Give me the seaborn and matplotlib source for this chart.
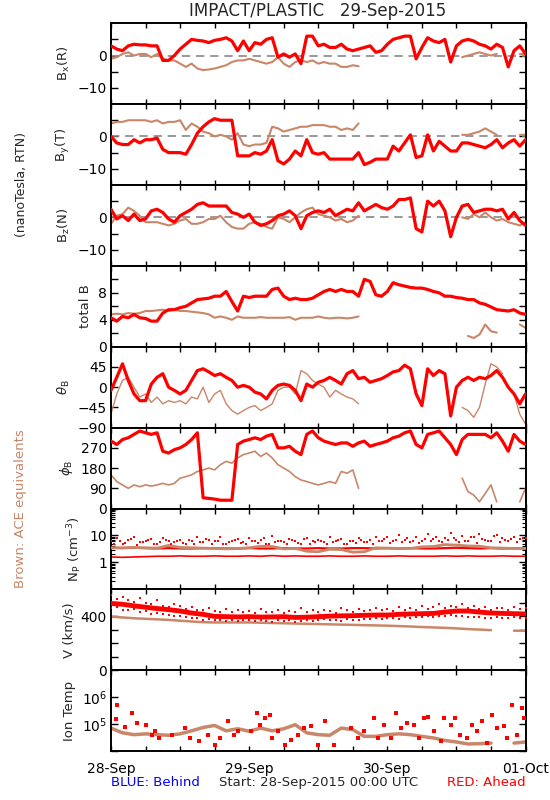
import numpy as np
import pandas as pd
import matplotlib
matplotlib.use('Agg')
import matplotlib.pyplot as plt
import matplotlib.ticker as mticker
import seaborn as sns

nan = np.nan

# --- data: hours after 28-Sep-2015 00:00 UTC ---
hours = list(range(73))
hours2 = list(range(0, 73, 2))
half_hours = [h + 0.5 for h in range(72)]

bx_ahead = [3, 2, 1.5, 3, 3.5, 3.3, 3.3, 3, 3, -1.5, -1.5, 0,
            2, 3.5, 5, 4.7, 4.5, 4, 4.7, 5, 5.5, 4.5, 1.5, 4.5,
            1.5, 4, 3.5, 5, 5.5, -0.5, 0.5, -0.5, 0.5, -2.5, 6, 6,
            3, 3.5, 2.5, 2.5, 3.5, 2, 1.5, 2, 2.5, 3, 1, 1.5,
            3.5, 5, 5.5, 6, 6, -1, 2.5, 5.5, 4.5, 4, 5, -2,
            3, 4.5, 5, 4.5, 3.5, 3, 2, 3.5, 2.5, -3.5, 1.5, 3,
            0.5]
bx_ace = [-1, -0.5, 0.5, 1, 0, 0.5, 0.5, -0.5, 0.5, -1, -1.5, -1.5,
          -2.5, -3.5, -2.5, -4, -4.5, -4.3, -4, -3.5, -3, -2, -1.5, -1.5,
          -1, -1.5, -2, -2.5, -2, -0.5, -2.5, -3.5, -2, -1.5, -2, -1.5,
          -2.5, -2, -2.5, -2.5, -3.5, -3.5, -3, -3.3, nan, nan, nan, nan,
          nan, nan, nan, nan, nan, nan, nan, nan, nan, nan, nan, nan,
          nan, -0.5, 0, 0.5, 1, 0.5, 0, 0.5, nan, nan, nan, 0.5,
          0.5]

by_ahead = [0, -2, -2.5, -2.5, -1, -2, -1, -1, -0.5, -4, -5, -5,
            -5, -5.5, -2.5, 1, 3, 4.5, 5.5, 5, 5, 5, -6, -6,
            -6, -5, -5.5, -4.5, -1, -7.5, -8.5, -7, -4.5, -6, -1, -5,
            -5.5, -5, -7, -7, -7, -7, -7, -5, -8.7, -8, -7, -7,
            -7, -3, -4.5, -2, 0.5, -6.5, -6, 0.5, -4.5, -1.5, -3, -4.5,
            -4.5, -2, -2, -2.5, -3, -3.5, -2.5, -1, -3.5, -2, -1, -3,
            -1]
by_ace = [4, 4.5, 4.5, 5, 5, 5, 5, 4.5, 5, 4, 4.5, 4.5,
          5, 2, 4, 3, 1.5, 1, 0, 0.5, 0, -1, 1, -2.5,
          -3, -2.5, -2.5, -2, 3, 2.5, 1.5, 2, 2.5, 3, 3, 3.5,
          3.5, 3.5, 3, 3, 2, 2.5, 2, 4, nan, nan, nan, nan,
          nan, nan, nan, nan, nan, nan, nan, nan, nan, nan, nan, nan,
          nan, 0.5, 0.5, 1, 1.5, 2.5, 1.5, 0.5, nan, nan, nan, 0.5,
          0.5]

bz_ahead = [2.5, -0.5, 0.5, -1, 1, -1, -0.5, 2, 2.5, 1.5, -0.5, -1.5,
            0.5, 1.5, 2.5, 4, 4.5, 3.5, 3.5, 3.5, 3.5, 1.5, 1, 0,
            1, -1.5, -2.5, -2, -1, 0.5, 1, 2, 0.5, -3.5, 0.5, 1.5,
            2, 1.5, 2.5, 0.5, 1.5, 2.5, 2, 4.5, 2, 3, 4, 3,
            2.5, 3.5, 5.5, 5.5, 6, -3.5, -4.5, 5, 3.5, 5, 2, -6,
            0, 3.5, 4, 1.5, 2, 2.5, 2.5, 2, 2.5, -0.5, 1.5, -1,
            -2.5]
bz_ace = [-2, 0.5, 1, 3, 2, 0.5, -1.5, -1.5, -1.5, -2, -2.5, -2,
          -1, -0.5, -2, -2, -1.5, -0.5, -0.5, 0.5, -1.5, -3, -3.5, -3.5,
          -2, -1.5, -2, -3, -3.5, 0, -0.5, -1.5, 0, 1.5, 2.5, 3,
          1, 0.5, 0, -1, -0.5, -1.5, -1, 0.5, nan, nan, nan, nan,
          nan, nan, nan, nan, nan, nan, nan, nan, nan, nan, nan, nan,
          nan, 0, -0.5, 1, 0, 1.5, 0, -1, -0.5, -1.5, -2, -2.5,
          -1.5]

totb_ahead = [4.3, 3.8, 4.5, 4.3, 4.8, 4.3, 4.2, 3.8, 3.8, 5.0, 5.5, 5.5,
              5.8, 6.0, 6.5, 7.0, 7.1, 7.2, 7.5, 7.5, 8.2, 6.7, 5.3, 7.5,
              7.3, 7.5, 7.5, 7.5, 8.5, 8.7, 7.5, 7.0, 7.2, 7.0, 7.0, 7.2,
              7.7, 8.2, 8.5, 8.2, 8.5, 8.2, 8.2, 7.5, 10.0, 9.7, 7.7, 7.5,
              8.2, 9.5, 9.2, 9.0, 8.8, 8.7, 8.7, 8.5, 8.2, 8.0, 7.5, 7.5,
              7.3, 7.2, 7.0, 7.0, 6.5, 6.3, 5.9, 5.5, 5.4, 5.3, 5.5, 5.0,
              4.8]
totb_ace = [4.8, 4.9, 4.8, 5.0, 4.9, 5.0, 5.3, 5.3, 5.4, 5.5, 5.3, 5.5,
            5.3, 5.3, 5.2, 5.1, 5.0, 4.8, 4.3, 4.5, 4.3, 4.0, 4.5, 4.3,
            4.3, 4.3, 4.4, 4.3, 4.3, 4.3, 4.3, 4.4, 4.0, 4.3, 4.3, 4.3,
            4.5, 4.3, 4.2, 4.3, 4.3, 4.2, 4.3, 4.5, nan, nan, nan, nan,
            nan, nan, nan, nan, nan, nan, nan, nan, nan, nan, nan, nan,
            nan, nan, 1.6, 1.3, 1.8, 3.3, 2.3, 2.1, nan, nan, nan, 3.3,
            2.8]

theta_ahead = [-7, 22, 52, 15, -15, -30, -30, 7, 22, 30, 0, -7,
               -15, -7, 15, 37, 41, 34, 26, 30, 22, 15, 0, 4,
               0, -11, -15, -26, -7, 4, 7, 4, -7, -30, 7, 0,
               11, 15, 22, 15, 7, 30, 37, 19, 22, 11, 15, 19,
               26, 34, 37, 49, 41, -15, -41, 41, 26, 37, 30, -64,
               0, 15, 22, 15, 22, 19, 26, 37, 22, 0, -15, -37,
               -15]
theta_ace = [-60, -15, 15, 22, 0, -22, -15, -34, -22, -37, -30, -34,
             -30, -37, -22, -26, 0, -34, -15, -7, -37, -52, -60, -52,
             -45, -41, -52, -45, -37, -7, 0, 0, -15, 37, 30, 15,
             7, 0, -22, -7, -15, -22, -26, -37, nan, nan, nan, nan,
             nan, nan, nan, nan, nan, nan, nan, nan, nan, nan, nan, nan,
             nan, -45, -52, -67, -45, 7, 52, 45, 30, nan, -15, -60,
             -82]

phi_ahead = [300, 285, 307, 315, 330, 345, 337, 330, 337, 255, 247, 262,
             270, 285, 307, 337, 48, 45, 42, 37, 37, 37, 285, 300,
             307, 315, 307, 322, 330, 270, 270, 277, 255, 240, 330, 345,
             315, 300, 292, 285, 292, 292, 277, 292, 300, 277, 285, 292,
             300, 315, 322, 337, 345, 285, 270, 330, 337, 345, 315, 285,
             240, 307, 330, 330, 330, 330, 315, 337, 300, 255, 330, 300,
             285]
phi_ace = [150, 120, 105, 90, 105, 97, 105, 100, 105, 112, 105, 112,
           135, 142, 150, 165, 172, 180, 172, 195, 210, 202, 225, 240,
           247, 255, 232, 247, 225, 195, 180, 165, 142, 127, 120, 112,
           105, 112, 120, 112, 165, 157, 172, 90, nan, nan, nan, nan,
           nan, nan, nan, nan, nan, nan, nan, nan, nan, nan, nan, nan,
           nan, 135, 75, 60, 30, 67, 105, 30, nan, nan, nan, 30,
           90]

# density (2-hourly bands + scattered upper points)
np_ahead = [3.5, 3.4, 3.5, 3.4, 3.3, 3.4, 3.3, 3.3, 3.4, 3.4, 3.3, 3.3,
            3.4, 3.3, 3.3, 3.4, 3.3, 3.3, 3.4, 3.3, 3.3, 3.4, 3.4, 3.3,
            3.4, 3.3, 3.4, 3.3, 3.3, 3.4, 3.5, 3.4, 3.3, 3.4, 3.3, 3.4, 3.3]
np_ahead_low = [1.6, 1.55, 1.6, 1.65, 1.7, 1.7, 1.75, 1.7, 1.7, 1.75, 1.7, 1.7,
                1.75, 1.7, 1.8, 1.7, 1.75, 1.7, 1.7, 1.75, 1.7, 1.7, 1.75, 1.7,
                1.7, 1.75, 1.7, 1.7, 1.7, 1.75, 1.7, 1.75, 1.7, 1.7, 1.75, 1.7, 1.7]
np_ahead_hi = [6.5, 8, 5, 7, 9, 5.5, 6, 7.5, 5, 8, 6, 5.5,
               7, 5, 6.5, 8.5, 5.5, 7, 6, 9, 5, 6.5, 7.5, 5.5,
               8, 6, 7, 5, 9.5, 6, 5.5, 7.5, 6.5, 5, 8, 6,
               7, 5.5, 9, 6, 7.5, 5, 6.5, 8, 5.5, 7, 9, 6,
               8.5, 6, 10, 7, 5.5, 9, 6.5, 11, 7.5, 6, 8, 12,
               7, 9.5, 6, 8.5, 11, 7, 6.5, 10, 8, 6, 9, 7.5,
               8]
np_ahead_hi2 = [4.8, 6, 5.2, 7.5, 4.6, 5.8, 6.8, 4.9, 5.5, 7, 4.7, 6.2,
                5.1, 6.6, 4.8, 5.6, 7.2, 5, 6.3, 4.7, 5.9, 6.9, 5.2, 4.9,
                6.4, 5.3, 7.8, 4.8, 5.7, 6.1, 4.9, 6.7, 5.4, 7.3, 4.8, 5.9,
                6.3, 5, 5.6, 7.1, 4.9, 6.4, 5.3, 6.8, 5.9, 4.8, 6.2, 7.6,
                5.1, 6.9, 5.8, 8.2, 6.3, 5.2, 7.4, 6, 8.8, 5.5, 6.7, 7.9,
                5.8, 6.5, 8.6, 5.4, 7.2, 6.1, 9.3, 5.7, 6.8, 7.7, 5.6, 8.4]
np_ace = [3.5, 3.5, 3.6, 3.5, 3.4, 4.3, 3.6, 3.5, 3.4, 3.3, 3.2, 3.3,
          3.5, 4.0, 3.9, 3.2, 3.3, 2.6, 2.5, 3.1, 3.0, 2.4, 2.5, 3.5,
          3.4, 3.3, 3.3, 3.8, 3.9, 4.6, 4.4, 4.1, 4.0, 3.5, 3.4, 3.3, 3.3]

# speed
v_ahead = [496, 490, 478, 468, 458, 450, 440, 425, 415, 400, 398, 396,
           398, 395, 396, 398, 392, 394, 398, 402, 404, 405, 408, 410,
           410, 415, 418, 420, 422, 432, 440, 440, 432, 425, 422, 420, 418]
v_ahead_hi = [560, 530, 545, 520, 510, 535, 500, 490, 520, 480, 470, 495,
              480, 455, 470, 450, 445, 460, 440, 430, 455, 435, 450, 430,
              440, 425, 455, 435, 430, 450, 425, 440, 430, 460, 435, 445,
              430, 450, 440, 425, 460, 445, 435, 455, 440, 450, 465, 445,
              455, 440, 470, 450, 460, 445, 480, 455, 470, 490, 465, 480,
              470, 495, 460, 475, 455, 470, 450, 465, 460, 445, 470, 455,
              460]
v_ahead_lo = [460, 470, 450, 445, 455, 430, 440, 420, 425, 415, 410, 405,
              400, 395, 385, 390, 375, 380, 370, 375, 365, 372, 368, 375,
              370, 365, 375, 368, 360, 372, 365, 370, 362, 368, 375, 365,
              372, 378, 370, 375, 368, 380, 375, 370, 382, 378, 385, 380,
              385, 390, 382, 395, 388, 398, 392, 400, 395, 405, 400, 410,
              405, 400, 398, 395, 392, 390, 388, 395, 390, 385, 392, 388,
              390]
v_ace = [398, 392, 386, 382, 378, 374, 368, 362, 357, 355, 355, 355,
         355, 353, 351, 349, 347, 345, 343, 341, 339, 337, 335, 333,
         331, 328, 325, 321, 318, 315, 311, 306, 302, 298, nan, 294, 293]

# ion temperature
t_ace = [7.2e4, 4.8e4, 4.1e4, 4.4e4, 4.1e4, 3.9e4, 4.4e4, 5.7e4, 7.6e4, 9.0e4, 5.7e4, 6.8e4,
         5.5e4, 7.2e4, 5.7e4, 6.8e4, 9.6e4, 4.8e4, 4.1e4, 3.9e4, 7.2e4, 6.3e4, 3.55e4, 3.55e4,
         4.1e4, 4.4e4, 4.1e4, 3.55e4, 3.1e4, 2.5e4, 2.2e4, 1.85e4, 1.9e4, 2.0e4, nan, 2.0e4, 2.2e4]
t_ahead_hours = [0.8, 1.1, 2.5, 3.7, 4.5, 6.0, 7.1, 7.7, 8.3, 10.6, 12.9, 13.8, 15.2, 16.9,
                 18.1, 19.0, 20.4, 21.3, 22.1, 24.4, 25.3, 25.9, 26.7, 27.6, 27.9, 29.0,
                 30.2, 31.3, 32.5, 33.6, 34.8, 35.9, 37.1, 38.8, 41.7, 42.9, 44.0, 45.7,
                 46.3, 47.5, 48.6, 49.5, 50.3, 51.5, 52.6, 53.5, 54.4, 55.0, 56.1, 57.3,
                 57.9, 59.0, 59.8, 60.7, 61.9, 62.7, 63.6, 64.5, 65.3, 66.2, 67.1, 68.2,
                 68.8, 69.6, 70.5, 71.4, 71.8]
t_ahead = [1.5e5, 5.2e5, 7.6e4, 2.6e5, 1.1e5, 9.5e4, 4.1e4, 5.5e4, 3.1e4, 4.1e4, 7.2e4, 3.1e4,
           2.3e4, 4.1e4, 1.7e4, 3.1e4, 1.3e5, 4.1e4, 5.5e4, 5.5e4, 2.6e5, 9.5e4, 1.7e5, 2.2e5,
           3.1e4, 5.5e4, 1.7e4, 2.7e4, 4.1e4, 7.2e4, 8.3e4, 1.7e4, 1.3e5, 1.7e4, 7.2e4, 3.1e4,
           5.5e4, 1.7e5, 3.1e4, 9.5e4, 3.1e4, 2.6e5, 7.2e4, 1.1e5, 9.5e4, 3.1e4, 1.7e5, 1.9e5,
           5.5e4, 2.3e4, 1.7e5, 9.5e4, 1.7e5, 4.1e4, 3.1e4, 9.5e4, 5.5e4, 1.3e5, 2.0e4, 2.2e5,
           7.2e4, 8.3e4, 3.1e4, 5.2e5, 4.1e4, 4.0e5, 1.7e5]

day_labels = ['28-Sep', '29-Sep', '30-Sep', '01-Oct']

# --- style ---
sns.set_theme(style='ticks')
plt.rcParams['font.family'] = ['DejaVu Sans']
plt.rcParams['mathtext.fontset'] = 'dejavusans'
RED = '#ff0000'
BROWN = '#c98668'

fig = plt.figure(figsize=(5.5, 8), dpi=100)
axes = fig.subplots(9, 1, sharex=True)
plt.subplots_adjust(left=0.2018, right=0.9555, top=0.971, bottom=0.061, hspace=0)

def draw(ax, x, ace, ahead, lw_red=2.3, lw_brown=1.5):
    ax.plot(x, ace, color=BROWN, lw=lw_brown, zorder=2)
    sns.lineplot(x=x, y=ahead, ax=ax, color=RED, lw=lw_red, zorder=3)

def dots(ax, x, y, color, size):
    sns.scatterplot(x=x, y=y, ax=ax, color=color, marker='s', s=size, linewidth=0, zorder=4)

# B components
for ax, ace, ahead, lab in zip(axes[:3], [bx_ace, by_ace, bz_ace], [bx_ahead, by_ahead, bz_ahead],
                               [r'B$_{\rm x}$(R)', r'B$_{\rm y}$(T)', r'B$_{\rm z}$(N)']):
    ax.axhline(0, color='#888888', lw=1.2, ls=(0, (5, 3.5)), zorder=1)
    draw(ax, hours, ace, ahead)
    ax.set_ylim(-15, 10)
    ax.set_yticks([-10, -5, 0, 5], ['\u221210', '', '0', ''])
    ax.set_ylabel(lab)

draw(axes[3], hours, totb_ace, totb_ahead)
axes[3].set_ylim(0, 12)
axes[3].set_yticks([0, 2, 4, 6, 8, 10], ['0', '', '4', '', '8', ''])
axes[3].set_ylabel('total B')

draw(axes[4], hours, theta_ace, theta_ahead, lw_brown=1.0)
axes[4].set_ylim(-90, 90)
axes[4].set_yticks([-90, -45, 0, 45], ['\u221290', '\u221245', '0', '45'])
axes[4].set_ylabel(r'$\theta_{\rm B}$')

draw(axes[5], hours, phi_ace, phi_ahead, lw_brown=1.2)
axes[5].set_ylim(0, 360)
axes[5].set_yticks([0, 90, 180, 270], ['0', '90', '180', '270'])
axes[5].set_ylabel(r'$\phi_{\rm B}$')

ax = axes[6]
ax.set_yscale('log')
sns.lineplot(x=hours2, y=np_ahead, ax=ax, color=RED, lw=1.6, zorder=2)
sns.lineplot(x=hours2, y=np_ahead_low, ax=ax, color=RED, lw=1.2, zorder=2)
ax.plot(hours2, np_ace, color=BROWN, lw=2.0, zorder=3)
dots(ax, hours, np_ahead_hi, RED, 3)
dots(ax, half_hours, np_ahead_hi2, RED, 3)
ax.set_ylim(0.1, 100)
ax.set_yticks([0.1, 1, 10, 100], ['', '1', '10', ''])
ax.yaxis.set_minor_locator(mticker.LogLocator(base=10, subs=np.arange(2, 10)))
ax.yaxis.set_minor_formatter(mticker.NullFormatter())
ax.set_ylabel(r'N$_{\rm P}$ (cm$^{-3}$)')

ax = axes[7]
ax.plot(hours2, v_ace, color=BROWN, lw=1.8, zorder=2)
sns.lineplot(x=hours2, y=v_ahead, ax=ax, color=RED, lw=3.5, zorder=3)
dots(ax, hours, v_ahead_hi, RED, 3)
dots(ax, hours, v_ahead_lo, RED, 3)
ax.set_ylim(0, 600)
ax.set_yticks([0, 100, 200, 300, 400, 500], ['0', '', '', '', '400', ''])
ax.set_ylabel('V (km/s)')

ax = axes[8]
ax.set_yscale('log')
ax.plot(hours2, t_ace, color=BROWN, lw=2.5, zorder=2)
dots(ax, t_ahead_hours, t_ahead, RED, 7)
ax.set_ylim(1e4, 1e7)
ax.set_yticks([1e4, 1e5, 1e6, 1e7], ['', r'10$^5$', r'10$^6$', ''])
ax.yaxis.set_minor_locator(mticker.NullLocator())
ax.set_ylabel('Ion Temp')

for ax in axes:
    ax.set_xlim(0, 72)
    ax.set_xticks(range(0, 73, 6))
    ax.tick_params(axis='both', which='both', direction='in', top=True, right=True,
                   labelsize=10, pad=3, color='black', labelcolor='black')
    ax.tick_params(axis='y', which='major', length=5, width=1)
    ax.tick_params(axis='y', which='minor', length=3, width=0.8)
    ax.tick_params(axis='x', which='major', length=3.5, width=1)
    ax.yaxis.label.set_size(9.5)
    ax.yaxis.labelpad = 4
    for s in ax.spines.values():
        s.set_linewidth(1.4)
        s.set_color('black')
    ax.set_xlabel('')

axes[-1].set_xticks(range(0, 73, 6),
                    [day_labels[i // 24] if i % 24 == 0 else '' for i in range(0, 73, 6)])
axes[-1].tick_params(axis='x', pad=8)

fig.text(0.5782, 0.986, 'IMPACT/PLASTIC   29-Sep-2015', ha='center', va='center', fontsize=12)
fig.text(0.04, 0.769, '(nanoTesla, RTN)', rotation=90, ha='center', va='center', fontsize=9)
fig.text(0.0376, 0.364, 'Brown: ACE equivalents', rotation=90, ha='center', va='center',
         fontsize=9.5, color=BROWN)
fig.text(0.2018, 0.0215, 'BLUE: Behind', color='blue', ha='left', va='center', fontsize=9.5)
fig.text(0.58, 0.0215, 'Start: 28-Sep-2015 00:00 UTC', ha='center', va='center', fontsize=9.5)
fig.text(0.955, 0.0215, 'RED: Ahead', color='red', ha='right', va='center', fontsize=9.5)

plt.savefig('out.png', dpi=100)
